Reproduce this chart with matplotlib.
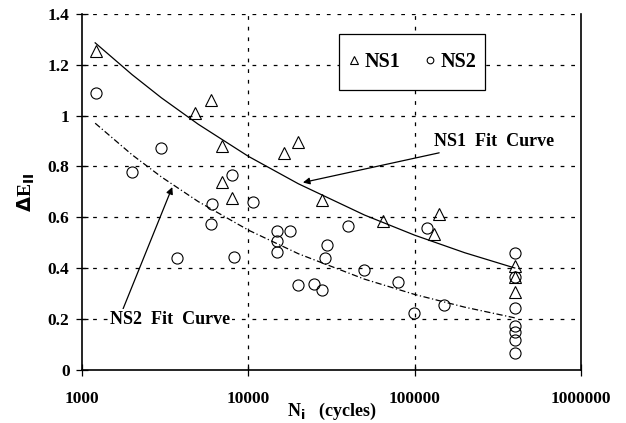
import matplotlib.pyplot as plt
import numpy as np
from matplotlib.ticker import FixedLocator, FixedFormatter
from matplotlib.patches import Rectangle

plt.rcParams['font.family'] = ['Liberation Serif', 'DejaVu Serif']
plt.rcParams['font.weight'] = 'bold'

# NS1 data (triangles)
ns1_n = [1210, 4780, 6000, 6980, 6980, 8020, 16500, 19800, 27900, 64900,
         130000, 140000, 400000, 400000, 400000]
ns1_e = [1.255, 1.009, 1.062, 0.882, 0.738, 0.677, 0.854, 0.895, 0.669, 0.586,
         0.533, 0.612, 0.408, 0.366, 0.307]

# NS2 data (circles)
ns2_n = [1210, 1990, 2990, 3710, 5960, 6020, 7950, 8240, 10700, 14900, 14900,
         14900, 17800, 20000, 24800, 27900, 28900, 29900, 39600, 49900, 79800,
         99600, 119000, 151000, 400000, 400000, 400000, 400000, 400000, 400000,
         400000]
ns2_e = [1.087, 0.780, 0.871, 0.442, 0.573, 0.654, 0.766, 0.444, 0.660, 0.546,
         0.508, 0.464, 0.546, 0.335, 0.337, 0.316, 0.442, 0.490, 0.566, 0.395,
         0.346, 0.226, 0.559, 0.255, 0.461, 0.366, 0.242, 0.174, 0.150, 0.118,
         0.068]

# fit curves
fit_n = [1200, 2000, 3000, 5000, 10000, 20000, 50000, 100000, 200000, 400000]
fit1_e = [1.286, 1.161, 1.070, 0.966, 0.840, 0.732, 0.609, 0.530, 0.461, 0.401]
fit2_e = [0.970, 0.846, 0.759, 0.662, 0.550, 0.457, 0.357, 0.297, 0.247, 0.205]

x_ticks = [1000, 10000, 100000, 1000000]
x_labels = ['1000', '10000', '100000', '1000000']
y_ticks = [0, 0.2, 0.4, 0.6, 0.8, 1.0, 1.2, 1.4]
y_labels = ['0', '0.2', '0.4', '0.6', '0.8', '1', '1.2', '1.4']

fig = plt.figure(figsize=(6.26, 4.23), dpi=100)
ax = fig.add_axes([0.131, 0.1253, 0.797, 0.842])

ax.set_xscale('log')
ax.set_xlim(1000, 1000000)
ax.set_ylim(0, 1.4)

# grid
for yv in y_ticks[1:]:
    ax.axhline(yv, color='black', lw=0.9, dashes=(3, 5.5), zorder=1)
for xv in x_ticks[1:3]:
    ax.axvline(xv, color='black', lw=0.9, dashes=(3, 5.5), zorder=1)

ax.plot(fit_n, fit1_e, color='black', lw=0.9, zorder=2)
ax.plot(fit_n, fit2_e, color='black', lw=0.9, dashes=(5, 2, 1, 2), zorder=2)

ax.plot(ns1_n, ns1_e, '^', ms=9, mfc='none', mec='black', mew=0.8,
        ls='none', label='NS1', zorder=3)
ax.plot(ns2_n, ns2_e, 'o', ms=8, mfc='none', mec='black', mew=0.8,
        ls='none', label='NS2', zorder=3)

ax.xaxis.set_major_locator(FixedLocator(x_ticks))
ax.xaxis.set_major_formatter(FixedFormatter(x_labels))
ax.xaxis.set_minor_locator(FixedLocator([]))
ax.set_yticks(y_ticks)
ax.set_yticklabels(y_labels)
ax.tick_params(direction='inout', length=8, width=0.9, labelsize=12.5)
ax.tick_params(axis='x', pad=11)
ax.tick_params(axis='y', pad=5)
for lab in ax.get_xticklabels() + ax.get_yticklabels():
    lab.set_fontweight('bold')

ax.spines['top'].set_visible(False)
for s in ['left', 'bottom', 'right']:
    ax.spines[s].set_linewidth(1.2)

ax.set_xlabel(r'N$_\mathbf{i}$   (cycles)', fontsize=13, fontweight='bold', labelpad=-4)
ax.set_ylabel(r'$\mathbf{\Delta}$E$_\mathbf{II}$', fontsize=14, fontweight='bold', labelpad=8)

# legend box drawn separately so it can be taller than the text row
ax.add_patch(Rectangle((0.515, 0.787), 0.293, 0.157, transform=ax.transAxes,
                       fc='white', ec='black', lw=0.9, zorder=4))
leg = ax.legend(loc='center', bbox_to_anchor=(0.6615, 0.8655), ncol=2,
                frameon=False, fontsize=14.5, handlelength=0.6,
                handletextpad=0.2, columnspacing=1.2, borderpad=0,
                markerscale=0.6, borderaxespad=0)
leg.set_zorder(5)

ax.annotate('NS1  Fit  Curve', xy=(21300, 0.737), xytext=(300000, 0.898),
            fontsize=13, fontweight='bold', ha='center', va='center',
            arrowprops=dict(arrowstyle='-|>', color='black', lw=0.9,
                            shrinkA=0, shrinkB=0, relpos=(0.15, 0.0),
                            mutation_scale=10))
ax.annotate('NS2  Fit  Curve', xy=(3490, 0.719), xytext=(3400, 0.2),
            fontsize=13, fontweight='bold', ha='center', va='center',
            bbox=dict(boxstyle='square,pad=0.1', fc='white', ec='none'),
            arrowprops=dict(arrowstyle='-|>', color='black', lw=0.9,
                            shrinkA=0, shrinkB=0, relpos=(0.1, 1.0),
                            mutation_scale=10))

plt.savefig('out.png', dpi=100)
plt.close()
